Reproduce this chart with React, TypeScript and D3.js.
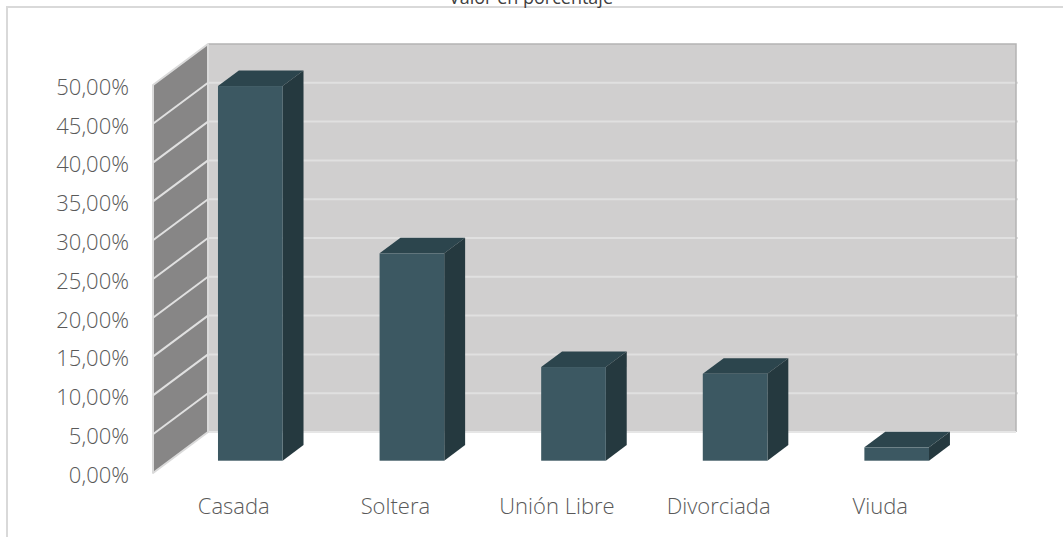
import * as d3 from 'd3';
import { useLayoutEffect, useRef } from 'react';

const categories = ['Casada', 'Soltera', 'Unión Libre', 'Divorciada', 'Viuda'];
const values = [48.28, 26.72, 12.07, 11.21, 1.72];
const yTicks = [0, 5, 10, 15, 20, 25, 30, 35, 40, 45, 50];
const title = 'Valor en porcentaje';

const App = () => {
  const ref = useRef<SVGSVGElement>(null);

  useLayoutEffect(() => {
    const width = 1063;
    const height = 537;
    const svg = d3.select(ref.current);
    svg.selectAll('*').remove();

    const font = '"Open Sans", Lato, sans-serif';
    // oblique depth offset of the whole floor (front -> back)
    const depthX = 55;
    const depthY = -41;

    const x = d3.scaleBand().domain(categories).range([153, 961]);
    const y = d3.scaleLinear().domain([0, 50]).range([473, 85]);

    // chart frame (runs past the right and bottom edges)
    svg
      .append('rect')
      .attr('x', 7)
      .attr('y', 7)
      .attr('width', 1080)
      .attr('height', 560)
      .attr('fill', 'white')
      .attr('stroke', '#d9d9d9')
      .attr('stroke-width', 2);

    svg
      .append('text')
      .attr('x', 531)
      .attr('y', 4)
      .attr('text-anchor', 'middle')
      .attr('font-family', font)
      .attr('font-size', 18)
      .attr('fill', '#404040')
      .text(title);

    const x0 = x.range()[0];
    const x1 = x.range()[1];
    const y0 = y(0);
    const yTop = y(50);

    // back wall
    svg
      .append('rect')
      .attr('x', x0 + depthX)
      .attr('y', yTop + depthY)
      .attr('width', x1 - x0)
      .attr('height', y0 - yTop)
      .attr('fill', '#d0cfcf');

    // back wall gridlines
    svg
      .append('g')
      .selectAll('line')
      .data(yTicks.slice(1, -1))
      .join('line')
      .attr('x1', x0 + depthX)
      .attr('x2', x1 + depthX + 2)
      .attr('y1', (d) => y(d) + depthY)
      .attr('y2', (d) => y(d) + depthY)
      .attr('stroke', '#e0e0e0')
      .attr('stroke-width', 2);

    // back wall edges
    svg
      .append('path')
      .attr('d', `M${x0 + depthX},${yTop + depthY}H${x1 + depthX}V${y0 + depthY}`)
      .attr('fill', 'none')
      .attr('stroke', '#b4b4b4')
      .attr('stroke-width', 1.5);
    svg
      .append('line')
      .attr('x1', x0 + depthX)
      .attr('x2', x1 + depthX)
      .attr('y1', y0 + depthY)
      .attr('y2', y0 + depthY)
      .attr('stroke', '#e6e6e6')
      .attr('stroke-width', 2);

    // side wall
    svg
      .append('path')
      .attr(
        'd',
        `M${x0},${y0}V${yTop}L${x0 + depthX},${yTop + depthY}V${y0 + depthY}Z`,
      )
      .attr('fill', '#878686')
      .attr('stroke', '#dadada')
      .attr('stroke-width', 2)
      .attr('stroke-linejoin', 'round');

    svg
      .append('g')
      .selectAll('line')
      .data(yTicks.slice(1, -1))
      .join('line')
      .attr('x1', x0)
      .attr('x2', x0 + depthX)
      .attr('y1', (d) => y(d))
      .attr('y2', (d) => y(d) + depthY)
      .attr('stroke', '#e0e0e0')
      .attr('stroke-width', 2);

    // y axis labels
    svg
      .append('g')
      .selectAll('text')
      .data(yTicks)
      .join('text')
      .attr('x', 129)
      .attr('y', (d) => y(d) + 2)
      .attr('dy', '0.35em')
      .attr('text-anchor', 'end')
      .attr('font-family', font)
      .attr('font-size', 22)
      .attr('font-weight', 300)
      .attr('fill', '#595959')
      .text((d) => d.toFixed(2).replace('.', ',') + '%');

    // category labels
    svg
      .append('g')
      .selectAll('text')
      .data(categories)
      .join('text')
      .attr('x', (d) => x(d)! + x.bandwidth() / 2)
      .attr('y', 506)
      .attr('dy', '0.35em')
      .attr('text-anchor', 'middle')
      .attr('font-family', font)
      .attr('font-size', 22)
      .attr('font-weight', 300)
      .attr('fill', '#595959')
      .text((d) => d);

    // 3d bars
    const barW = x.bandwidth() * 0.4;
    const f0 = 0.3;
    const f1 = 0.68;
    const ox = f0 * depthX;
    const oy = f0 * depthY;
    const ddx = (f1 - f0) * depthX;
    const ddy = (f1 - f0) * depthY;

    const bars = svg
      .append('g')
      .selectAll('g')
      .data(categories.map((c, i) => ({ c, v: values[i] })))
      .join('g');

    const left = (d) => x(d.c)! + x.bandwidth() / 2 - barW / 2 + ox;
    const top = (d) => y(d.v) + oy;
    const base = y(0) + oy;

    bars
      .append('path')
      .attr('fill', '#2c454d')
      .attr(
        'd',
        (d) =>
          `M${left(d)},${top(d)}L${left(d) + ddx},${top(d) + ddy}H${left(d) + barW + ddx}L${left(d) + barW},${top(d)}Z`,
      );
    bars
      .append('path')
      .attr('fill', '#25393f')
      .attr(
        'd',
        (d) =>
          `M${left(d) + barW},${top(d)}L${left(d) + barW + ddx},${top(d) + ddy}V${base + ddy}L${left(d) + barW},${base}Z`,
      );
    bars
      .append('rect')
      .attr('fill', '#3c5862')
      .attr('x', left)
      .attr('y', top)
      .attr('width', barW)
      .attr('height', (d) => base - top(d));

    svg.attr('viewBox', [0, 0, width, height]);
  }, []);

  return (
    <svg
      ref={ref}
      width={1063}
      height={537}
      style={{ position: 'absolute', left: 0, top: 0, background: 'white' }}
    />
  );
};

export default App;
